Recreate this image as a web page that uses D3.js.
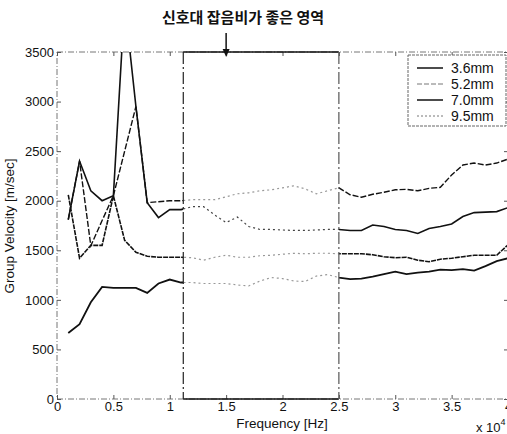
<!DOCTYPE html>
<html>
<head>
<meta charset="utf-8">
<script src="https://cdn.jsdelivr.net/npm/d3@7"></script>
<style>
  body { margin: 0; background: #fff; }
  text { font-family: "Liberation Sans", Arial, sans-serif; fill: #111; }
</style>
</head>
<body>
<div id="chart"></div>
<script>
// frequency in units of 10^4 Hz
const freq = [0.1, 0.2, 0.3, 0.4, 0.5, 0.6, 0.7, 0.8, 0.9, 1.0,
              1.1, 1.2, 1.3, 1.4, 1.5, 1.6, 1.7, 1.8, 1.9, 2.0,
              2.1, 2.2, 2.3, 2.4, 2.5, 2.6, 2.7, 2.8, 2.9, 3.0,
              3.1, 3.2, 3.3, 3.4, 3.5, 3.6, 3.7, 3.8, 3.9, 4.0];

const v36 = [665, 755, 975, 1130, 1120, 1120, 1120, 1070, 1165, 1205,
             1175, 1175, 1165, 1165, 1165, 1150, 1140, 1190, 1225, 1215,
             1190, 1185, 1240, 1255, 1225, 1210, 1215, 1235, 1260, 1285,
             1260, 1275, 1285, 1305, 1300, 1310, 1295, 1340, 1390, 1420];

const v52 = [1810, 2400, 1545, 1800, 2050, 2500, 2950, 1980, 1990, 2000,
             2000, 2010, 2010, 2010, 2040, 2070, 2080, 2100, 2110, 2130,
             2150, 2120, 2070, 2100, 2130, 2060, 2035, 2065, 2085, 2110,
             2115, 2100, 2125, 2135, 2260, 2360, 2380, 2360, 2380, 2420];

const v70 = [1810, 2400, 2100, 2000, 2050, 4000, 2950, 1980, 1830, 1910,
             1910, 1940, 1940, 1855, 1780, 1835, 1740, 1710, 1710, 1705,
             1700, 1700, 1705, 1710, 1710, 1700, 1700, 1755, 1740, 1710,
             1700, 1670, 1720, 1740, 1765, 1840, 1880, 1885, 1890, 1930];

const v95 = [2060, 1420, 1550, 1550, 2050, 1600, 1480, 1440, 1430, 1430,
             1430, 1425, 1400, 1430, 1450, 1430, 1430, 1445, 1450, 1460,
             1470, 1465, 1470, 1470, 1465, 1465, 1465, 1455, 1435, 1425,
             1430, 1400, 1385, 1410, 1420, 1435, 1450, 1450, 1450, 1555];

const seriesNames = ["3.6mm", "5.2mm", "7.0mm", "9.5mm"];
// dash used in the legend, and (darker, denser) on the curves
const legendDash = [null, "5,2", null, "2,2"];
const curveDash = [null, "6,2", null, "5,1"];
const seriesWidth = [1.8, 1.4, 1.6, 1.6];

const xTicks = [0, 0.5, 1, 1.5, 2, 2.5, 3, 3.5, 4];
const yTicks = [0, 500, 1000, 1500, 2000, 2500, 3000, 3500];

// good SNR region (x 10^4 Hz)
const region = [1.12, 2.5];
const arrowAt = 1.5;

const width = 507, height = 434;

const svg = d3.select("#chart").append("svg")
    .attr("width", width)
    .attr("height", height);

const x = d3.scaleLinear().domain([0, 4]).range([57, 508]);
const y = d3.scaleLinear().domain([0, 3500]).range([399, 52]);

const defs = svg.append("defs");
defs.append("clipPath").attr("id", "outside")
    .append("path")
    .attr("d", "M" + x(0) + "," + y(3500) + "H" + x(region[0]) + "V" + y(0) + "H" + x(0) + "Z" +
               "M" + x(region[1]) + "," + y(3500) + "H" + x(4) + "V" + y(0) + "H" + x(region[1]) + "Z");
defs.append("clipPath").attr("id", "inside")
    .append("rect")
    .attr("x", x(region[0]))
    .attr("y", y(3500))
    .attr("width", x(region[1]) - x(region[0]))
    .attr("height", y(0) - y(3500));

// axes frame (faint, dotted like the scan)
svg.append("rect")
    .attr("x", x(0)).attr("y", y(3500))
    .attr("width", x(4) - x(0)).attr("height", y(0) - y(3500))
    .attr("fill", "none")
    .attr("stroke", "#777")
    .attr("stroke-width", 1)
    .attr("stroke-dasharray", "6,2,1,2");

// ticks
let xAxis = svg.append("g")
    .attr("transform", "translate(0," + y(0) + ")")
    .call(d3.axisBottom(x).tickValues(xTicks).tickSize(-4).tickFormat(d => d));
xAxis.select(".domain").remove();
xAxis.selectAll("line").attr("stroke", "#555");
xAxis.selectAll("text")
    .attr("y", 3)
    .attr("font-size", "13px")
    .style("font-family", "Liberation Sans, Arial, sans-serif")
    .attr("fill", "#111");

let xTop = svg.append("g")
    .attr("transform", "translate(0," + y(3500) + ")")
    .call(d3.axisTop(x).tickValues(xTicks).tickSize(-4).tickFormat(""));
xTop.select(".domain").remove();
xTop.selectAll("line").attr("stroke", "#555");

let yAxis = svg.append("g")
    .attr("transform", "translate(" + x(0) + ",0)")
    .call(d3.axisLeft(y).tickValues(yTicks).tickSize(-4).tickFormat(d => d));
yAxis.select(".domain").remove();
yAxis.selectAll("line").attr("stroke", "#555");
yAxis.selectAll("text")
    .attr("x", -3)
    .attr("font-size", "13px")
    .style("font-family", "Liberation Sans, Arial, sans-serif")
    .attr("fill", "#111");

let yRight = svg.append("g")
    .attr("transform", "translate(" + x(4) + ",0)")
    .call(d3.axisRight(y).tickValues(yTicks).tickSize(-4).tickFormat(""));
yRight.select(".domain").remove();
yRight.selectAll("line").attr("stroke", "#555");

// data lines: dark outside the region, faint dotted inside it (as in the scan)
const allSeries = [v36, v52, v70, v95];
const line = d3.line()
    .x((d, i) => x(freq[i]))
    .y(d => y(d));

const dark = svg.append("g").attr("clip-path", "url(#outside)");
const light = svg.append("g").attr("clip-path", "url(#inside)");

allSeries.forEach((s, k) => {
    dark.append("path")
        .datum(s)
        .attr("d", line)
        .attr("fill", "none")
        .attr("stroke", "#111")
        .attr("stroke-width", seriesWidth[k])
        .attr("stroke-dasharray", curveDash[k]);
    light.append("path")
        .datum(s)
        .attr("d", line)
        .attr("fill", "none")
        .attr("stroke", k == 2 ? "#444" : "#999")
        .attr("stroke-width", 1.2)
        .attr("stroke-dasharray", "2,3");
});

// region box
const rx0 = x(region[0]), rx1 = x(region[1]);
svg.append("line")
    .attr("x1", rx0).attr("x2", rx1).attr("y1", y(3500)).attr("y2", y(3500))
    .attr("stroke", "#111").attr("stroke-width", 1.5);
svg.append("line")
    .attr("x1", rx0).attr("x2", rx1).attr("y1", y(0)).attr("y2", y(0))
    .attr("stroke", "#111").attr("stroke-width", 1.5);
svg.append("line")
    .attr("x1", rx0).attr("x2", rx0).attr("y1", y(3500)).attr("y2", y(0))
    .attr("stroke", "#222").attr("stroke-width", 1.2)
    .attr("stroke-dasharray", "12,3,2,3");
svg.append("line")
    .attr("x1", rx1).attr("x2", rx1).attr("y1", y(3500)).attr("y2", y(0))
    .attr("stroke", "#555").attr("stroke-width", 1.2)
    .attr("stroke-dasharray", "12,3,2,3");

// arrow + annotation
const ax = x(arrowAt);
svg.append("line")
    .attr("x1", ax).attr("x2", ax).attr("y1", 33).attr("y2", 50)
    .attr("stroke", "#111").attr("stroke-width", 1.5);
svg.append("path")
    .attr("d", "M" + (ax - 3.5) + ",49L" + (ax + 3.5) + ",49L" + ax + ",57Z")
    .attr("fill", "#111");
svg.append("text")
    .attr("x", 243).attr("y", 23)
    .attr("text-anchor", "middle")
    .attr("font-size", "15px")
    .attr("font-weight", "bold")
    .style("font-family", "'Noto Sans CJK KR', sans-serif")
    .text("신호대 잡음비가 좋은 영역");

// legend
const lg = svg.append("g");
lg.append("rect")
    .attr("x", 408).attr("y", 55).attr("width", 98).attr("height", 71)
    .attr("fill", "#fff")
    .attr("stroke", "#666").attr("stroke-width", 1)
    .attr("stroke-dasharray", "3,1");
const legendY = [68, 84, 100, 116];
seriesNames.forEach((name, k) => {
    lg.append("line")
        .attr("x1", 417).attr("x2", 443)
        .attr("y1", legendY[k]).attr("y2", legendY[k])
        .attr("stroke", k % 2 ? "#777" : "#111")
        .attr("stroke-width", k % 2 ? 1 : 1.5)
        .attr("stroke-dasharray", legendDash[k]);
    lg.append("text")
        .attr("x", 451).attr("y", legendY[k] + 5)
        .attr("font-size", "14px")
        .text(name);
});

// axis labels
svg.append("text")
    .attr("x", 282).attr("y", 428)
    .attr("text-anchor", "middle")
    .attr("font-size", "13.5px")
    .text("Frequency [Hz]");

svg.append("text")
    .attr("transform", "translate(14," + 226 + ") rotate(-90)")
    .attr("text-anchor", "middle")
    .attr("font-size", "13.5px")
    .text("Group Velocity [m/sec]");

const exp = svg.append("text")
    .attr("x", 476).attr("y", 432)
    .attr("font-size", "13px");
exp.append("tspan").text("x 10");
exp.append("tspan").attr("dy", -7).attr("font-size", "9px").text("4");
</script>
</body>
</html>
